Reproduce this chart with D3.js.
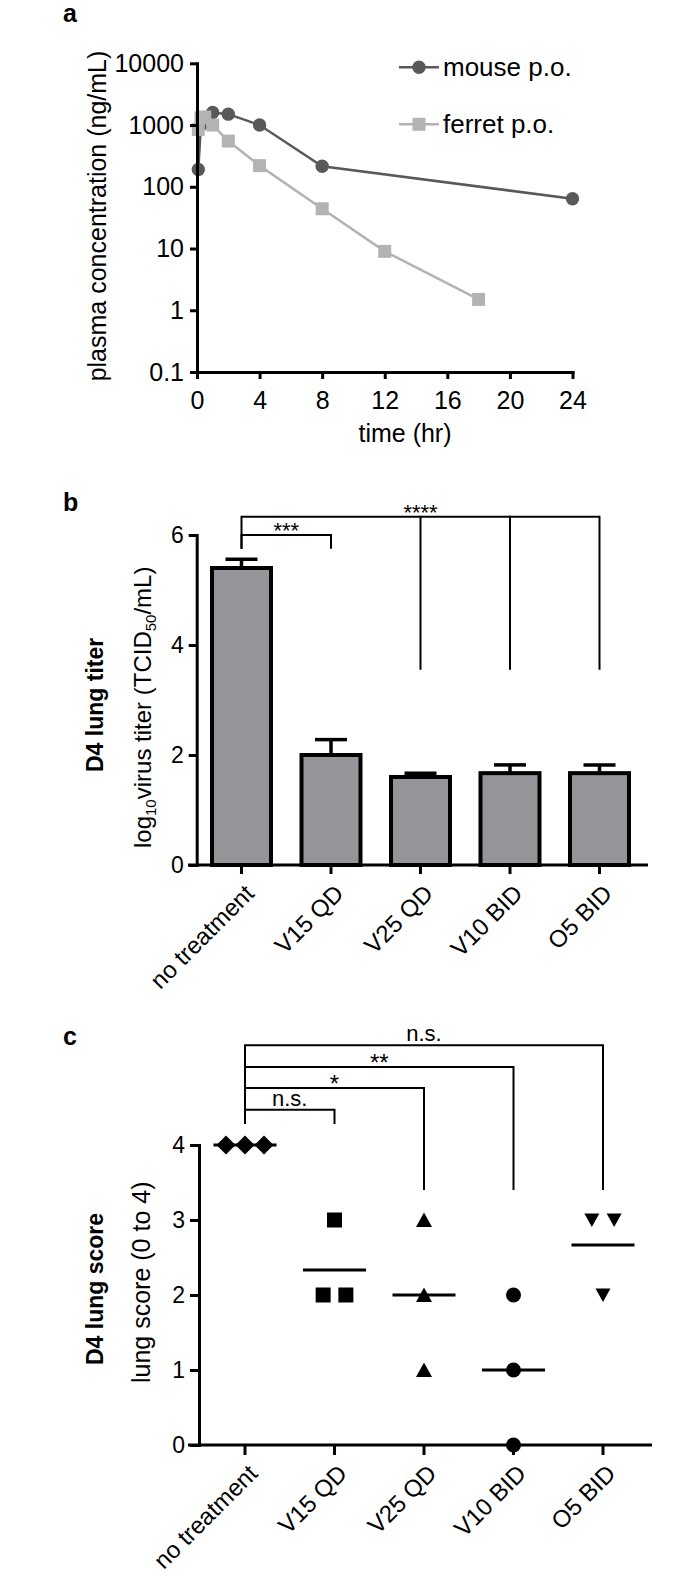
<!DOCTYPE html>
<html><head><meta charset="utf-8">
<script src="https://cdn.jsdelivr.net/npm/d3@7"></script>
<style>
body{margin:0;background:#fff}
svg{display:block}
text{font-family:"Liberation Sans",Arial,Helvetica,sans-serif;fill:#000}
</style>
</head><body>
<svg id="chart" width="700" height="1585"></svg>
<script>
// ---------------- Panel a data ----------------
const mouseTime = [0.083, 0.25, 1, 2, 4, 8, 24];
const mouseConc = [190, 1000, 1600, 1500, 1000, 215, 64];
const ferretTime = [0.083, 0.25, 0.5, 1, 2, 4, 8, 12, 18];
const ferretConc = [850, 1300, 1350, 1000, 550, 220, 44, 9, 1.5];
const timeTicks = [0, 4, 8, 12, 16, 20, 24];
const concTicks = [0.1, 1, 10, 100, 1000, 10000];
const concTickLabels = ["0.1", "1", "10", "100", "1000", "10000"];
const seriesNames = ["mouse p.o.", "ferret p.o."];

// ---------------- Panel b data ----------------
const groups = ["no treatment", "V15 QD", "V25 QD", "V10 BID", "O5 BID"];
const titerMean = [5.4, 2.0, 1.6, 1.67, 1.67];
const titerSEM = [0.16, 0.28, 0.07, 0.15, 0.15];
const titerTicks = [0, 2, 4, 6];
const titerSig = [
  {from: 0, to: [1], level: 6.0, drop: [5.75, 5.75], label: "***"},
  {from: 0, to: [2, 3, 4], level: 6.33, drop: [5.75, 3.55, 3.55, 3.55], label: "****"}
];

// ---------------- Panel c data ----------------
const scoreNoTreatment = [4, 4, 4];
const scoreV15QD = [3, 2, 2];
const scoreV25QD = [3, 2, 1];
const scoreV10BID = [2, 1, 0];
const scoreO5BID = [3, 3, 2];
const scoreTicks = [0, 1, 2, 3, 4];
const scoreSig = [
  {to: 1, level: 4.47, drop: [4.28, 4.28], label: "n.s."},
  {to: 2, level: 4.76, drop: [4.28, 3.4], label: "*"},
  {to: 3, level: 5.04, drop: [4.28, 3.4], label: "**"},
  {to: 4, level: 5.33, drop: [4.28, 3.4], label: "n.s."}
];

// ====================================================
const svg = d3.select("#chart");
const AX = 3;

function styleAxis(g, fs) {
  g.select(".domain").attr("stroke", "#000").attr("stroke-width", AX).attr("stroke-linecap", "square");
  g.selectAll(".tick line").attr("stroke", "#000").attr("stroke-width", AX);
  g.selectAll(".tick text").attr("font-size", fs).attr("fill", "#000")
    .style("font-family", '"Liberation Sans",Arial,sans-serif');
}

function panelLetter(t, x, y) {
  svg.append("text").attr("x", x).attr("y", y).attr("font-size", 25)
    .attr("font-weight", "bold").text(t);
}

// ---------------- Panel a ----------------
panelLetter("a", 63, 22);
const xA = d3.scaleLinear().domain([0, 24]).range([197, 572.5]);
const yA = d3.scaleLog().domain([0.1, 10000]).range([372, 63.3]);
const gA = svg.append("g");

const mouseData = mouseTime.map((t, i) => ({t, v: mouseConc[i]}));
const ferretData = ferretTime.map((t, i) => ({t, v: ferretConc[i]}));
const lineA = d3.line().x(d => xA(d.t)).y(d => yA(d.v));
const colMouse = "#58595b", colFerret = "#b3b3b3";

gA.append("path").datum(mouseData).attr("d", lineA).attr("fill", "none")
  .attr("stroke", colMouse).attr("stroke-width", 2.5);
gA.selectAll("circle.m").data(mouseData).join("circle").attr("class", "m")
  .attr("cx", d => xA(d.t)).attr("cy", d => yA(d.v)).attr("r", 6.7).attr("fill", colMouse);
gA.append("path").datum(ferretData).attr("d", lineA).attr("fill", "none")
  .attr("stroke", colFerret).attr("stroke-width", 2.5);
gA.selectAll("rect.f").data(ferretData).join("rect").attr("class", "f")
  .attr("x", d => xA(d.t) - 6.5).attr("y", d => yA(d.v) - 6.5)
  .attr("width", 13).attr("height", 13).attr("fill", colFerret);

const gAy = gA.append("g").attr("transform", `translate(${xA(0)},0)`)
  .call(d3.axisLeft(yA).tickValues(concTicks).tickFormat((d, i) => concTickLabels[i])
    .tickSize(7).tickPadding(6).tickSizeOuter(0));
styleAxis(gAy, 25);
const gAx = gA.append("g").attr("transform", `translate(0,${yA(0.1)})`)
  .call(d3.axisBottom(xA).tickValues(timeTicks).tickSize(7).tickPadding(12).tickSizeOuter(0));
styleAxis(gAx, 25);

svg.append("text").attr("transform", "translate(97,216) rotate(-90)")
  .attr("text-anchor", "middle").attr("dy", "0.35em").attr("font-size", 25)
  .text("plasma concentration (ng/mL)");
svg.append("text").attr("x", 405).attr("y", 442).attr("text-anchor", "middle")
  .attr("font-size", 25).text("time (hr)");

// legend
const legY = [67.3, 124.3];
seriesNames.forEach((name, i) => {
  const col = i === 0 ? colMouse : colFerret;
  svg.append("line").attr("x1", 399).attr("x2", 439).attr("y1", legY[i]).attr("y2", legY[i])
    .attr("stroke", col).attr("stroke-width", 2.5);
  if (i === 0) svg.append("circle").attr("cx", 419).attr("cy", legY[i]).attr("r", 6.7).attr("fill", col);
  else svg.append("rect").attr("x", 412.5).attr("y", legY[i] - 6.5).attr("width", 13).attr("height", 13).attr("fill", col);
  svg.append("text").attr("x", 443).attr("y", legY[i]).attr("dy", "0.35em")
    .attr("font-size", 26).text(name);
});

// ---------------- Panel b ----------------
panelLetter("b", 63, 511);
const xB = d3.scalePoint().domain(groups).range([241.5, 599.5]);
const yB = d3.scaleLinear().domain([0, 6]).range([865, 535]);
const gB = svg.append("g");
const barW = 59;

// error bars
groups.forEach((g, i) => {
  const cx = xB(g), top = yB(titerMean[i] + titerSEM[i]);
  gB.append("line").attr("x1", cx).attr("x2", cx).attr("y1", yB(titerMean[i])).attr("y2", top)
    .attr("stroke", "#000").attr("stroke-width", 3.5);
  gB.append("line").attr("x1", cx - 16).attr("x2", cx + 16).attr("y1", top).attr("y2", top)
    .attr("stroke", "#000").attr("stroke-width", 3.5);
});
gB.selectAll("rect.bar").data(groups).join("rect").attr("class", "bar")
  .attr("x", g => xB(g) - barW / 2).attr("width", barW)
  .attr("y", (g, i) => yB(titerMean[i])).attr("height", (g, i) => yB(0) - yB(titerMean[i]))
  .attr("fill", "#939598").attr("stroke", "#000").attr("stroke-width", 4);

const gBy = gB.append("g").attr("transform", `translate(196.7,0)`)
  .call(d3.axisLeft(yB).tickValues(titerTicks).tickFormat(d3.format("d"))
    .tickSize(8).tickPadding(5).tickSizeOuter(0));
styleAxis(gBy, 23);
gB.append("line").attr("x1", 188).attr("x2", 648).attr("y1", yB(0)).attr("y2", yB(0))
  .attr("stroke", "#000").attr("stroke-width", AX);
groups.forEach(g => gB.append("line").attr("x1", xB(g)).attr("x2", xB(g))
  .attr("y1", yB(0)).attr("y2", yB(0) + 9).attr("stroke", "#000").attr("stroke-width", AX));

function catLabels(xs, axisY) {
  groups.forEach(g => {
    svg.append("text").attr("transform", `translate(${xs(g) + 14},${axisY + 30}) rotate(-45)`)
      .attr("text-anchor", "end").attr("font-size", 24).text(g);
  });
}
catLabels(xB, yB(0));

// significance brackets b
titerSig.forEach(s => {
  const xs = [s.from].concat(s.to).map(i => xB(groups[i]));
  const ly = yB(s.level);
  gB.append("line").attr("x1", xs[0]).attr("x2", xs[xs.length - 1]).attr("y1", ly).attr("y2", ly)
    .attr("stroke", "#000").attr("stroke-width", 2);
  xs.forEach((x, k) => gB.append("line").attr("x1", x).attr("x2", x).attr("y1", ly - 1)
    .attr("y2", yB(s.drop[k])).attr("stroke", "#000").attr("stroke-width", 2));
  gB.append("text").attr("x", (xs[0] + xs[xs.length - 1]) / 2).attr("y", ly + 3)
    .attr("text-anchor", "middle").attr("font-size", 22).text(s.label);
});

svg.append("text").attr("transform", "translate(95,772) rotate(-90)")
  .attr("dy", "0.35em").attr("font-size", 23).attr("font-weight", "bold").text("D4 lung titer");
const tb = svg.append("text").attr("transform", "translate(143,848) rotate(-90)")
  .attr("dy", "0.35em").attr("font-size", 24);
tb.append("tspan").text("log");
tb.append("tspan").attr("font-size", 15).attr("dy", 5).text("10");
tb.append("tspan").attr("dy", -5).text("virus titer (TCID");
tb.append("tspan").attr("font-size", 15).attr("dy", 5).text("50");
tb.append("tspan").attr("dy", -5).text("/mL)");

// ---------------- Panel c ----------------
panelLetter("c", 63, 1045);
const xC = d3.scalePoint().domain(groups).range([245, 603]);
const yC = d3.scaleLinear().domain([0, 4]).range([1445, 1145]);
const gC = svg.append("g");
const scores = [scoreNoTreatment, scoreV15QD, scoreV25QD, scoreV10BID, scoreO5BID];
const shapes = ["diamond", "square", "triangle", "circle", "triangleDown"];
const spacing = {diamond: 19, square: 22.7, triangle: 22, circle: 22, triangleDown: 22.3};
function shapePath(type) {
  switch (type) {
    case "diamond": return "M0,-9.5L9.5,0L0,9.5L-9.5,0Z";
    case "square": return "M-7.5,-7.5h15v15h-15Z";
    case "triangle": return "M0,-7.5L8,7L-8,7Z";
    case "triangleDown": return "M-7.5,-6.5L7.5,-6.5L0,7Z";
    case "circle": return "M7.5,0A7.5,7.5 0 1,1 -7.5,0A7.5,7.5 0 1,1 7.5,0Z";
  }
}
// mean lines
scores.forEach((arr, i) => {
  const m = d3.mean(arr), cx = xC(groups[i]);
  gC.append("line").attr("x1", cx - 31.5).attr("x2", cx + 31.5).attr("y1", yC(m)).attr("y2", yC(m))
    .attr("stroke", "#000").attr("stroke-width", 3);
});
// points
scores.forEach((arr, i) => {
  const cx = xC(groups[i]);
  const byVal = d3.group(arr, v => v);
  byVal.forEach((vals, v) => {
    const n = vals.length;
    vals.forEach((_, k) => {
      const off = (k - (n - 1) / 2) * spacing[shapes[i]];
      gC.append("path").attr("d", shapePath(shapes[i]))
        .attr("transform", `translate(${cx + off},${yC(v)})`).attr("fill", "#000");
    });
  });
});

const gCy = gC.append("g").attr("transform", `translate(199,0)`)
  .call(d3.axisLeft(yC).tickValues(scoreTicks).tickFormat(d3.format("d"))
    .tickSize(9).tickPadding(5).tickSizeOuter(0));
styleAxis(gCy, 23);
gC.append("line").attr("x1", 188).attr("x2", 652).attr("y1", yC(0)).attr("y2", yC(0))
  .attr("stroke", "#000").attr("stroke-width", AX);
groups.forEach(g => gC.append("line").attr("x1", xC(g)).attr("x2", xC(g))
  .attr("y1", yC(0)).attr("y2", yC(0) + 10).attr("stroke", "#000").attr("stroke-width", AX));
catLabels(xC, yC(0));

scoreSig.forEach(s => {
  const x1 = xC(groups[0]), x2 = xC(groups[s.to]), ly = yC(s.level);
  gC.append("path").attr("d", `M${x1},${yC(s.drop[0])}V${ly}H${x2}V${yC(s.drop[1])}`)
    .attr("fill", "none").attr("stroke", "#000").attr("stroke-width", 2);
  const isStar = s.label.indexOf("*") >= 0;
  gC.append("text").attr("x", (x1 + x2) / 2).attr("y", isStar ? ly + 4 : ly - 4)
    .attr("text-anchor", "middle").attr("font-size", isStar ? 24 : 22).text(s.label);
});

svg.append("text").attr("transform", "translate(95,1365) rotate(-90)")
  .attr("dy", "0.35em").attr("font-size", 23).attr("font-weight", "bold").text("D4 lung score");
svg.append("text").attr("transform", "translate(141.7,1383) rotate(-90)")
  .attr("dy", "0.35em").attr("font-size", 25).text("lung score (0 to 4)");
</script>
</body></html>
